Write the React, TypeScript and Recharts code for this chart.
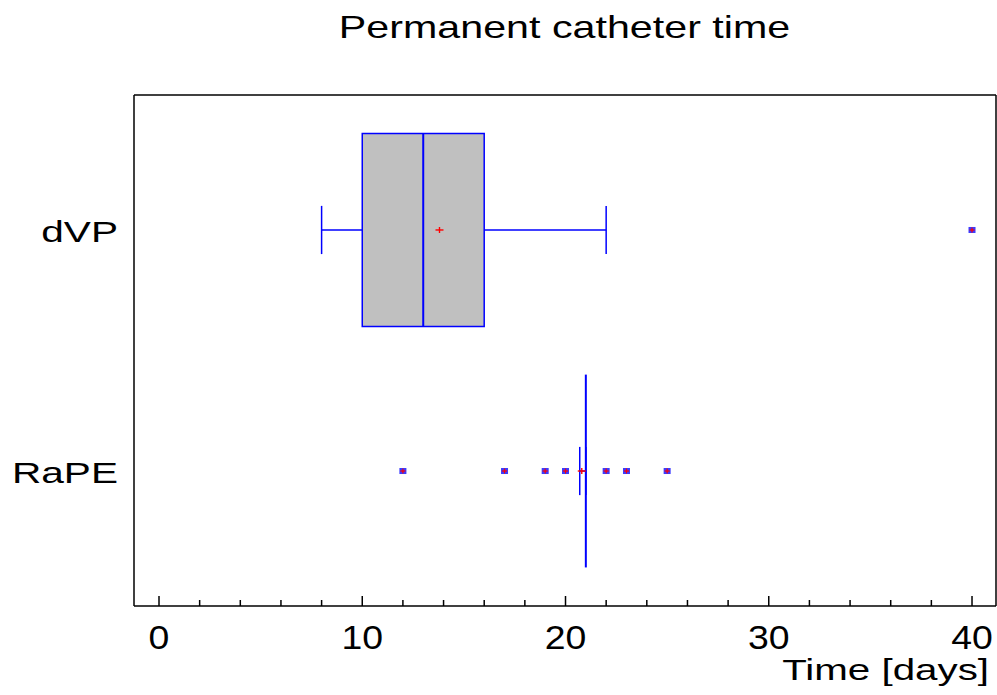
import React from 'react';
import { ComposedChart, XAxis, YAxis, Scatter, ReferenceArea, ReferenceLine, Label } from 'recharts';

// box plot summary per group
const groups = ['dVP', 'RaPE'];
const q1 = [10, 21];
const medians = [13, 21];
const q3 = [16, 21];
const whiskerLow = [8, 20.7];
const whiskerHigh = [22, 21];
const means = [13.8, 20.8];
const outliers = [[40], [12, 17, 19, 20, 22, 23, 25]];

const xTicks = [0, 2, 4, 6, 8, 10, 12, 14, 16, 18, 20, 22, 24, 26, 28, 30, 32, 34, 36, 38, 40];
const majorTicks = [0, 10, 20, 30, 40];
const yTicks = [1, 2];

const X_DOMAIN: [number, number] = [-1.23, 41.18];
const Y_DOMAIN: [number, number] = [0.44, 2.56];
const BOX_HALF = 0.4;
const CAP_HALF = 0.1;

const BLUE = '#0000ff';
const RED = '#ff0000';
const FONT = '"Liberation Sans", Arial, sans-serif';

const outlierPoints = outliers.flatMap((vals, i) => vals.map((v) => ({ x: v, y: i + 1 })));
const meanPoints = means.map((m, i) => ({ x: m, y: i + 1 }));

const OutlierShape = (props: any) => {
  const { cx, cy } = props;
  return (
    <g>
      <rect x={cx - 3.5} y={cy - 3} width={7} height={6} fill="#3a3aff" />
      <line x1={cx - 2.5} x2={cx + 2.5} y1={cy} y2={cy} stroke={RED} strokeWidth={1.2} />
      <line x1={cx} x2={cx} y1={cy - 2.5} y2={cy + 2.5} stroke={RED} strokeWidth={1.2} />
    </g>
  );
};

const MeanShape = (props: any) => {
  const { cx, cy } = props;
  return (
    <g>
      <line x1={cx - 4} x2={cx + 4} y1={cy} y2={cy} stroke={RED} strokeWidth={1.4} />
      <line x1={cx} x2={cx} y1={cy - 3} y2={cy + 3} stroke={RED} strokeWidth={1.4} />
    </g>
  );
};

const BottomTick = (props: any) => {
  const { x, y, payload } = props;
  const v = payload.value;
  const major = majorTicks.includes(v);
  return (
    <g>
      <line x1={x} x2={x} y1={y} y2={y - (major ? 10 : 6)} stroke="#000" strokeWidth={1.5} />
      {major && (
        <text transform={`translate(${x},${y + 43}) scale(1.1,1)`} textAnchor="middle"
          fontSize={34} fontFamily={FONT} fill="#000">{v}</text>
      )}
    </g>
  );
};

const TopTick = (props: any) => {
  const { x, y, payload } = props;
  const major = majorTicks.includes(payload.value);
  return <line x1={x} x2={x} y1={y} y2={y + (major ? 10 : 6)} stroke="#000" strokeWidth={1.5} />;
};

const GroupTick = (props: any) => {
  const { x, y, payload } = props;
  return (
    <text transform={`translate(${x - 16},${y + 12}) scale(1.4,1)`} textAnchor="end"
      fontSize={29} fontFamily={FONT} fill="#000">{groups[payload.value - 1]}</text>
  );
};

const TitleLabel = (props: any) => {
  const vb = props.viewBox;
  return (
    <text transform={`translate(${vb.x + vb.width / 2 - 0.5},${vb.y + 37.5}) scale(1.33,1)`}
      textAnchor="middle" fontSize={31} fontFamily={FONT} fill="#000">Permanent catheter time</text>
  );
};

const AxisTitle = (props: any) => {
  const vb = props.viewBox;
  return (
    <text transform={`translate(${vb.x + vb.width - 7},${vb.y + 74}) scale(1.39,1)`}
      textAnchor="end" fontSize={29} fontFamily={FONT} fill="#000">Time [days]</text>
  );
};

export default function App() {
  const axisLine = { stroke: '#000', strokeWidth: 1.5 };
  return (
    <div style={{ position: 'absolute', left: 0, top: 0, background: '#fff' }}>
      <ComposedChart width={997} height={695} margin={{ top: 0, right: 0, bottom: 0, left: 0 }}>
        <XAxis xAxisId={0} type="number" dataKey="x" domain={X_DOMAIN} ticks={xTicks} interval={0}
          height={89} axisLine={axisLine} tickLine={false} tickSize={0} tickMargin={0} tick={<BottomTick />}>
          <Label content={<AxisTitle />} />
        </XAxis>
        <XAxis xAxisId="top" orientation="top" type="number" domain={X_DOMAIN} ticks={xTicks} interval={0}
          height={95} axisLine={axisLine} tickLine={false} tickSize={0} tickMargin={0} tick={<TopTick />}>
          <Label content={<TitleLabel />} />
        </XAxis>
        <YAxis yAxisId={0} type="number" dataKey="y" domain={Y_DOMAIN} reversed ticks={yTicks} interval={0}
          width={134} axisLine={axisLine} tickLine={false} tickSize={0} tickMargin={0} tick={<GroupTick />} />
        <YAxis yAxisId="r" orientation="right" type="number" domain={Y_DOMAIN} width={1}
          axisLine={axisLine} tickLine={false} tick={false} />

        {groups.map((g, i) => {
          const c = i + 1;
          return (
            <React.Fragment key={g}>
              <ReferenceLine segment={[{ x: whiskerLow[i], y: c }, { x: q1[i], y: c }]} stroke={BLUE} strokeWidth={1.5} />
              <ReferenceLine segment={[{ x: q3[i], y: c }, { x: whiskerHigh[i], y: c }]} stroke={BLUE} strokeWidth={1.5} />
              <ReferenceLine segment={[{ x: whiskerLow[i], y: c - CAP_HALF }, { x: whiskerLow[i], y: c + CAP_HALF }]} stroke={BLUE} strokeWidth={1.5} />
              <ReferenceLine segment={[{ x: whiskerHigh[i], y: c - CAP_HALF }, { x: whiskerHigh[i], y: c + CAP_HALF }]} stroke={BLUE} strokeWidth={1.5} />
              <ReferenceArea x1={q1[i]} x2={q3[i]} y1={c - BOX_HALF} y2={c + BOX_HALF}
                fill="#c0c0c0" fillOpacity={1} stroke={BLUE} strokeWidth={1.5} />
              <ReferenceLine segment={[{ x: medians[i], y: c - BOX_HALF }, { x: medians[i], y: c + BOX_HALF }]} stroke={BLUE} strokeWidth={2} />
            </React.Fragment>
          );
        })}

        <Scatter data={meanPoints} shape={<MeanShape />} isAnimationActive={false} />
        <Scatter data={outlierPoints} shape={<OutlierShape />} isAnimationActive={false} />
      </ComposedChart>
    </div>
  );
}
